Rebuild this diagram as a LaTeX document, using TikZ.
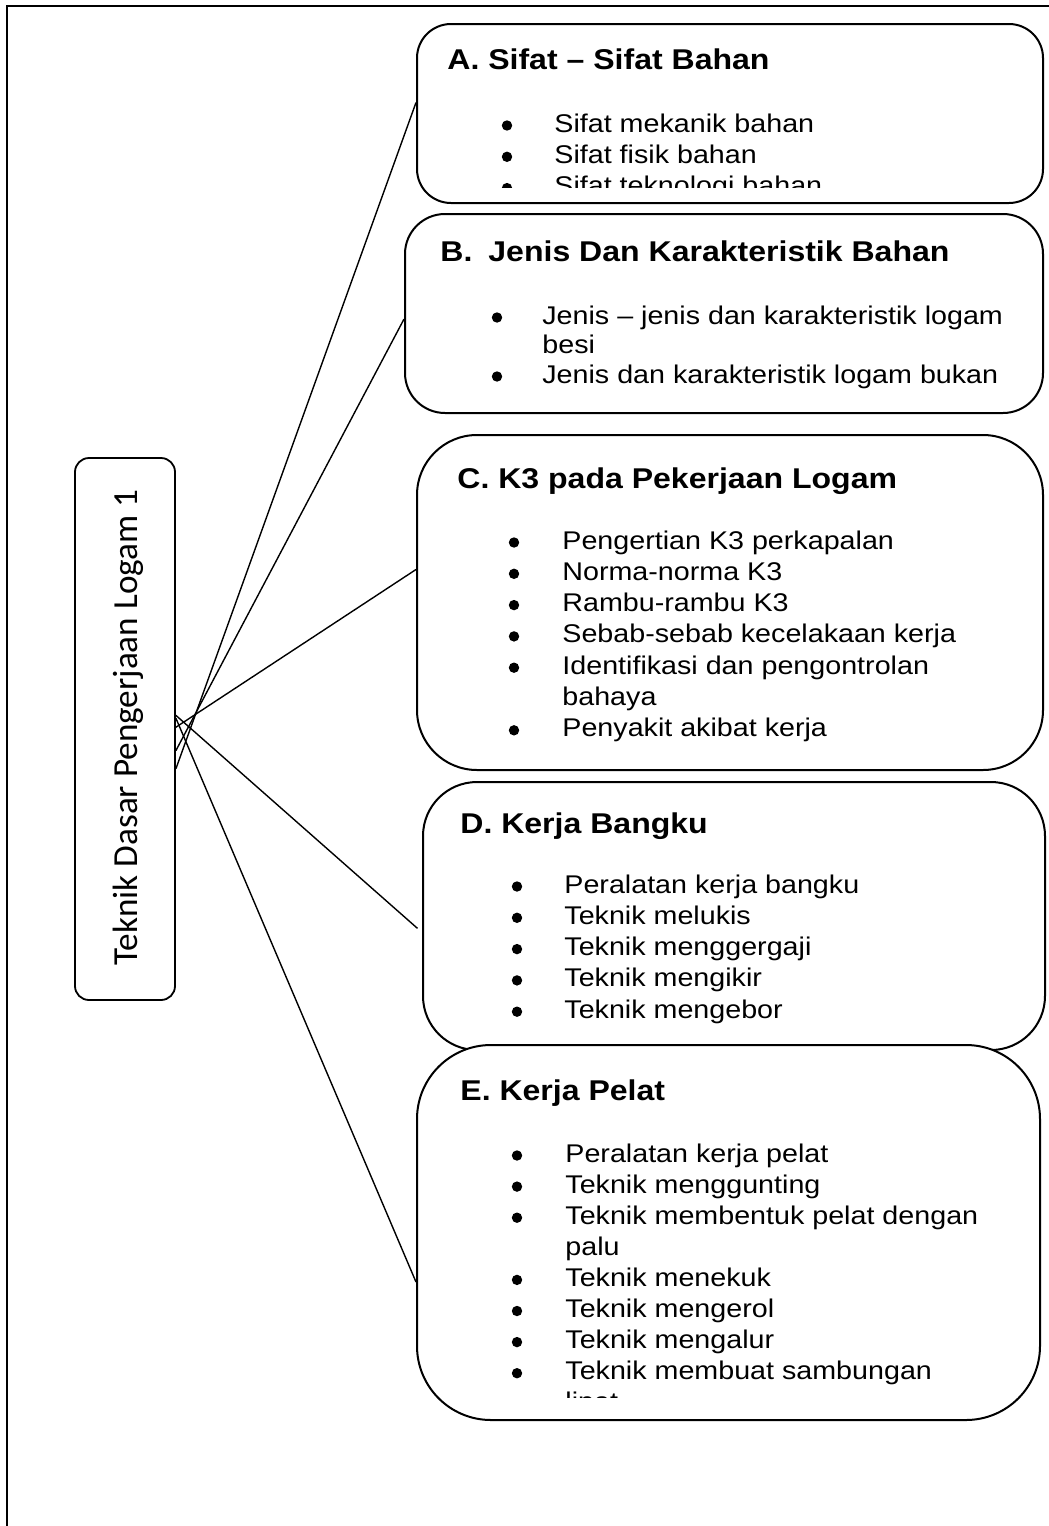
\documentclass[tikz,border=0pt]{standalone}
\usepackage{fontspec}
\usepackage{tikz}
\newfontfamily\arialfont[FakeStretch=1.12]{Liberation Sans}
\newfontfamily\calibrifont{Carlito}

\begin{document}
\begin{tikzpicture}[x=0.5pt,y=-0.5pt,
	topicbox/.style={draw=black,line width=1pt,fill=white,inner sep=0pt},
	mainbox/.style={draw=black,line width=0.9pt,rounded corners=7pt,minimum width=50pt,minimum height=271pt,inner sep=0pt},
	title/.style={anchor=base west,inner sep=0pt,font=\arialfont\bfseries\fontsize{14.3pt}{17pt}\selectfont},
	item/.style={anchor=base west,inner sep=0pt,font=\arialfont\fontsize{12.8pt}{15.6pt}\selectfont},
	dot/.style={circle,fill=black,inner sep=0pt,minimum size=5.2pt},
	link/.style={line width=0.7pt}]

\useasboundingbox (0,0) rectangle (1049,1526);
\draw[line width=1.2pt] (1049,6) -- (7,6) -- (7,1526);

% main topic
\node[mainbox] (main) at (125,729) {};
\node[rotate=90,inner sep=0pt,font=\calibrifont\fontsize{17.6pt}{20pt}\selectfont] (maintext) at (128,727.5) {Teknik Dasar Pengerjaan Logam 1};

% A
\node[topicbox,rounded corners=17pt,minimum width=313pt,minimum height=89.5pt] (A) at (730,113.5) {};
\node[title] (Atitle) at (447,69) {A. Sifat – Sifat Bahan};
\begin{scope}
\clip (417,24) rectangle (1043,187);
\foreach \t [count=\i] in {Sifat mekanik bahan, Sifat fisik bahan, Sifat teknologi bahan}{
	\node[dot] (Adot\i) at (507,94.2+31.3*\i) {};
	\node[item] (Aitem\i) at (554,100.7+31.3*\i) {\t};
}
\end{scope}

% B
\node[topicbox,rounded corners=20pt,minimum width=319pt,minimum height=99.5pt] (B) at (724,313.5) {};
\node[title] (Btitle) at (440,261) {B.\hspace{8pt}Jenis Dan Karakteristik Bahan};
\foreach \b/\t [count=\i] in {1/Jenis – jenis dan karakteristik logam, 0/besi, 1/Jenis dan karakteristik logam bukan}{
	\ifnum\b=1 \node[dot] (Bdot\i) at (497,288+29.5*\i) {}; \fi
	\node[item] (Bitem\i) at (542,294.5+29.5*\i) {\t};
}

% C
\node[topicbox,rounded corners=30pt,minimum width=313pt,minimum height=167.5pt] (C) at (730,602.5) {};
\node[title] (Ctitle) at (457,488) {C. K3 pada Pekerjaan Logam};
\foreach \b/\t [count=\i] in {1/Pengertian K3 perkapalan, 1/Norma-norma K3, 1/Rambu-rambu K3, 1/Sebab-sebab kecelakaan kerja, 1/Identifikasi dan pengontrolan, 0/bahaya, 1/Penyakit akibat kerja}{
	\ifnum\b=1 \node[dot] (Cdot\i) at (514,511.2+31.3*\i) {}; \fi
	\node[item] (Citem\i) at (562,517.7+31.3*\i) {\t};
}

% D
\node[topicbox,rounded corners=27pt,minimum width=311pt,minimum height=134pt] (D) at (734,916) {};
\node[title] (Dtitle) at (460,833) {D. Kerja Bangku};
\foreach \t [count=\i] in {Peralatan kerja bangku, Teknik melukis, Teknik menggergaji, Teknik mengikir, Teknik mengebor}{
	\node[dot] (Ddot\i) at (517,855.2+31.3*\i) {};
	\node[item] (Ditem\i) at (564,861.7+31.3*\i) {\t};
}

% E
\node[topicbox,rounded corners=37pt,minimum width=311.5pt,minimum height=187.5pt] (E) at (728.5,1232.5) {};
\node[title] (Etitle) at (460,1100) {E. Kerja Pelat};
\begin{scope}
\clip (417,1045) rectangle (1040,1397);
\foreach \b/\t [count=\i] in {1/Peralatan kerja pelat, 1/Teknik menggunting, 1/Teknik membentuk pelat dengan, 0/palu, 1/Teknik menekuk, 1/Teknik mengerol, 1/Teknik mengalur, 1/Teknik membuat sambungan, 0/lipat}{
	\ifnum\b=1 \node[dot] (Edot\i) at (517,1124.4+31.1*\i) {}; \fi
	\node[item] (Eitem\i) at (565,1130.9+31.1*\i) {\t};
}
\end{scope}

% links
\draw[link] (main.-38) -- (A.178);
\draw[link] (main.-23) -- (B.181);
\draw[link] (main.2) -- (C.174);
\draw[link,shorten >=3pt] (main.15) -- (D.183);
\draw[link] (main.12) -- (E.189);

\end{tikzpicture}
\end{document}
